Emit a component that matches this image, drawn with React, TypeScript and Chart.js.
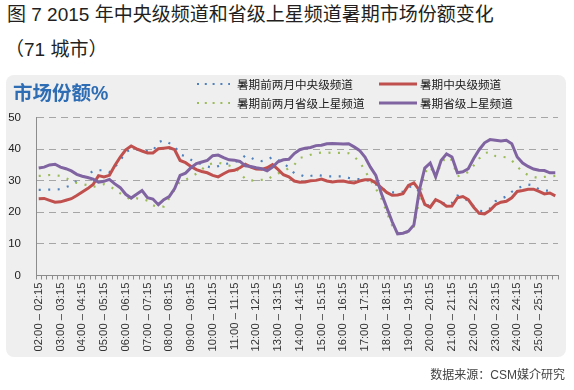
import React, { useEffect, useRef } from 'react';
import { Chart, registerables } from 'chart.js';

Chart.register(...registerables);

// Hourly tick labels (one shown every 4 quarter-hour categories)
const tickLabels = [
  '02:00 – 02:15', '03:00 – 03:15', '04:00 – 04:15', '05:00 – 05:15', '06:00 – 06:15', '07:00 – 07:15',
  '08:00 – 08:15', '09:00 – 09:15', '10:00 – 10:15', '11:00 – 11:15', '12:00 – 12:15', '13:00 – 13:15',
  '14:00 – 14:15', '15:00 – 15:15', '16:00 – 16:15', '17:00 – 17:15', '18:00 – 18:15', '19:00 – 19:15',
  '20:00 – 20:15', '21:00 – 21:15', '22:00 – 22:15', '23:00 – 23:15', '24:00 – 24:15', '25:00 – 25:15',
];
const quarterSuffix = ['a', 'b', 'c', 'd'];
const categories: string[] = [];
tickLabels.forEach((t) => quarterSuffix.forEach((q) => categories.push(t + q)));

// 暑期前两月中央级频道 (dotted blue)
const preCentral = [
  27.1, 27.1, 27.2, 27.2, 27.3, 28.0, 28.5, 29.9, 31.2, 31.6, 33.2, 33.3,
  33.3, 32.7, 34.3, 36.4, 39.1, 39.8, 39.8, 39.6, 39.4, 39.4, 42.2, 42.8,
  41.9, 40.9, 38.3, 37.7, 36.6, 35.9, 35.1, 34.5, 34.1, 34.6, 35.2, 35.5,
  35.9, 36.4, 38.0, 37.3, 36.4, 36.2, 36.6, 37.5, 36.6, 35.6, 34.1, 32.4,
  32.0, 31.2, 31.5, 31.9, 31.6, 31.4, 31.4, 31.4, 31.4, 30.9, 30.6, 30.5,
  30.3, 29.9, 28.8, 27.8, 26.6, 26.3, 26.3, 26.5, 28.0, 28.2, 26.5, 22.5,
  22.0, 23.8, 23.5, 22.2, 23.0, 25.3, 24.8, 23.5, 21.9, 20.5, 20.3, 21.2,
  23.5, 24.3, 25.0, 26.5, 27.6, 28.3, 28.8, 28.5, 27.3, 26.9, 26.8, 26.5,
];
// 暑期前两月省级上星频道 (dotted green)
const preProvincial = [
  31.5, 31.6, 31.8, 31.8, 31.5, 30.8, 30.0, 29.3, 28.9, 28.6, 28.0, 28.5,
  28.9, 28.2, 27.3, 26.0, 25.0, 23.9, 24.4, 24.2, 23.7, 22.2, 21.7, 21.8,
  24.5, 27.2, 29.8, 30.3, 31.2, 32.2, 33.6, 35.0, 35.5, 35.7, 35.3, 34.8,
  34.3, 32.5, 30.5, 30.0, 30.2, 30.3, 30.2, 31.5, 32.3, 32.9, 34.0, 35.0,
  37.2, 37.6, 38.2, 38.7, 38.9, 38.9, 38.8, 38.8, 38.8, 38.7, 37.6, 36.0,
  33.2, 30.2, 27.5, 24.5, 20.0, 15.8, 13.5, 13.2, 13.8, 15.5, 24.0, 32.5,
  34.5, 31.0, 35.5, 37.5, 36.5, 31.4, 31.8, 32.8, 34.8, 37.0, 38.8, 39.0,
  37.8, 37.6, 37.4, 36.4, 34.5, 32.8, 31.8, 31.2, 30.8, 31.2, 31.4, 31.5,
];
// 暑期中央级频道 (red)
const sumCentral = [
  24.3, 24.4, 23.8, 23.2, 23.3, 23.8, 24.3, 25.3, 26.4, 27.5, 28.8, 31.6,
  31.2, 31.7, 34.8, 37.5, 39.8, 41.0, 40.1, 39.4, 38.8, 38.8, 40.1, 40.3,
  40.5, 39.8, 36.4, 35.7, 34.5, 33.5, 32.9, 32.5, 31.7, 31.2, 32.2, 33.1,
  33.3, 34.1, 35.2, 34.3, 33.7, 33.6, 34.1, 35.1, 33.6, 31.9, 31.2, 29.9,
  29.5, 29.6, 30.0, 30.1, 30.5, 29.9, 29.6, 29.8, 29.9, 29.5, 29.3, 29.9,
  30.3, 30.3, 29.3, 27.8, 26.3, 25.4, 25.5, 25.9, 28.5, 29.3, 27.0, 22.5,
  21.6, 24.0, 23.2, 21.9, 22.0, 24.6, 25.0, 24.0, 21.6, 19.7, 19.5, 20.6,
  22.4, 23.2, 23.5, 24.6, 26.6, 26.9, 27.3, 27.3, 26.6, 25.8, 26.1, 25.2,
];
// 暑期省级上星频道 (purple)
const sumProvincial = [
  34.0, 34.3, 35.0, 35.2, 34.3, 33.8, 33.1, 32.0, 31.4, 31.0, 30.5, 29.5,
  29.8, 30.4, 29.0, 27.8, 25.7, 24.5, 25.7, 26.9, 24.6, 24.2, 22.4, 24.0,
  25.0, 27.5, 31.7, 32.4, 34.1, 35.4, 35.9, 36.4, 37.9, 38.1, 37.3, 36.6,
  36.5, 36.1, 34.7, 34.5, 34.1, 33.8, 33.1, 34.3, 36.0, 36.6, 36.8, 38.6,
  39.8, 40.3, 40.5, 41.1, 41.2, 41.7, 41.8, 41.7, 41.6, 41.7, 40.7, 39.6,
  37.5, 34.3, 31.7, 26.0, 21.5, 17.0, 13.2, 13.4, 14.0, 16.0, 27.0, 34.0,
  35.6, 31.2, 36.4, 38.5, 37.5, 32.5, 32.8, 33.8, 37.0, 39.8, 42.0, 43.0,
  42.8, 42.6, 42.8, 41.7, 37.5, 35.6, 34.5, 33.7, 33.3, 33.2, 32.5, 32.5,
];

const seriesNames = ['暑期前两月中央级频道', '暑期中央级频道', '暑期前两月省级上星频道', '暑期省级上星频道'];
const yTicks = [0, 10, 20, 30, 40, 50];

const BLUE = '#4f81bd';
const GREEN = '#9bbb59';
const RED = '#c0504d';
const PURPLE = '#8064a2';
const FONT = '"Liberation Sans", Arial, "Noto Sans CJK SC", sans-serif';

function LegendItem({ dotted, color, label, left, top, w }: any) {
  return (
    <div style={{ position: 'absolute', left, top, height: 16, display: 'flex', alignItems: 'center', whiteSpace: 'nowrap' }}>
      <svg width={w} height={6} style={{ display: 'block' }}>
        {dotted ? (
          <line x1={1} y1={3} x2={w} y2={3} stroke={color} strokeWidth={2.2} strokeDasharray="2 5.8" />
        ) : (
          <line x1={0} y1={3} x2={w} y2={3} stroke={color} strokeWidth={3} />
        )}
      </svg>
      <span style={{ marginLeft: dotted ? 7 : 3, fontSize: 11.6, color: '#1a1a1a', fontFamily: FONT }}>{label}</span>
    </div>
  );
}

export default function App() {
  const ref = useRef<HTMLCanvasElement>(null);
  useEffect(() => {
    const ctx = ref.current!;
    const chart = new Chart(ctx, {
      type: 'line',
      data: {
        labels: categories,
        datasets: [
          { label: seriesNames[0], data: preCentral, borderColor: BLUE, borderWidth: 2.2, borderDash: [2, 7.5], pointRadius: 0, tension: 0, order: 3 },
          { label: seriesNames[2], data: preProvincial, borderColor: GREEN, borderWidth: 2.2, borderDash: [2, 7.5], pointRadius: 0, tension: 0, order: 2 },
          { label: seriesNames[1], data: sumCentral, borderColor: RED, borderWidth: 3, pointRadius: 0, tension: 0, order: 1 },
          { label: seriesNames[3], data: sumProvincial, borderColor: PURPLE, borderWidth: 3, pointRadius: 0, tension: 0, order: 0 },
        ],
      },
      options: {
        animation: false,
        responsive: false,
        maintainAspectRatio: false,
        layout: { padding: { left: 0, right: 16, top: 117.5, bottom: 34.5 } },
        plugins: { legend: { display: false }, tooltip: { enabled: false }, title: { display: false } },
        scales: {
          x: {
            type: 'category',
            offset: true,
            grid: { offset: true, drawOnChartArea: false, drawTicks: true, tickLength: 4, color: '#8c8c8c', lineWidth: 1 },
            border: { display: true, color: '#8c8c8c', width: 1 },
            ticks: {
              autoSkip: false,
              maxRotation: 90,
              minRotation: 90,
              padding: 3,
              color: '#333333',
              font: { family: FONT, size: 11.3 },
              callback: (_v: any, i: number) => (i % 4 === 0 ? tickLabels[i / 4] : ''),
            },
            afterFit: (s: any) => { s.height = 80; },
          },
          y: {
            min: 0,
            max: 50,
            afterBuildTicks: (s: any) => { s.ticks = yTicks.map((v) => ({ value: v })); },
            grid: { drawTicks: false, color: (c: any) => (c.tick && c.tick.value === 0 ? 'rgba(0,0,0,0)' : '#a6a6a6'), lineWidth: 1 },
            border: { display: true, color: '#8c8c8c', width: 1, dash: [7, 5] },
            ticks: { padding: 15, color: '#222222', font: { family: FONT, size: 11.5 } },
            afterFit: (s: any) => { s.width = 36; },
          },
        },
      },
    } as any);
    return () => chart.destroy();
  }, []);

  return (
    <div style={{ position: 'absolute', left: 0, top: 0, width: 574, height: 390, background: '#ffffff', overflow: 'hidden' }}>
      <div style={{ position: 'absolute', left: 7, top: 4, fontSize: 19, lineHeight: '22px', color: '#231f20', fontFamily: FONT, whiteSpace: 'nowrap' }}>
        图 7 2015 年中央级频道和省级上星频道暑期市场份额变化
      </div>
      <div style={{ position: 'absolute', left: 5, top: 39, fontSize: 19, lineHeight: '22px', color: '#231f20', fontFamily: FONT, whiteSpace: 'nowrap' }}>
        （71 城市）
      </div>
      <div style={{ position: 'absolute', left: 6, top: 75, width: 560, height: 282, background: '#efefef', borderRadius: 8 }} />
      <canvas ref={ref} width={574} height={390} style={{ position: 'absolute', left: 0, top: 0, width: 574, height: 390 }} />
      <div style={{ position: 'absolute', left: 13, top: 82, fontSize: 19.5, lineHeight: '22px', fontWeight: 'bold', color: '#2e6db4', fontFamily: FONT, whiteSpace: 'nowrap' }}>
        市场份额%
      </div>
      <LegendItem dotted color={BLUE} label={seriesNames[0]} left={196} top={76} w={34} />
      <LegendItem dotted color={GREEN} label={seriesNames[2]} left={196} top={95} w={34} />
      <LegendItem color={RED} label={seriesNames[1]} left={379} top={76} w={38} />
      <LegendItem color={PURPLE} label={seriesNames[3]} left={379} top={95} w={38} />
      <div style={{ position: 'absolute', right: 9, top: 367, fontSize: 12, lineHeight: '16px', color: '#444444', fontFamily: FONT, whiteSpace: 'nowrap' }}>
        数据来源：CSM媒介研究
      </div>
    </div>
  );
}
